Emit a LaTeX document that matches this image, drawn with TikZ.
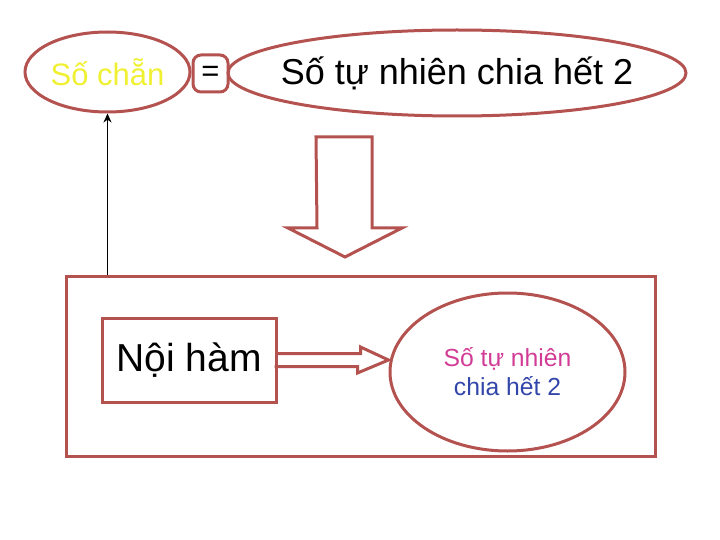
\documentclass[tikz,border=0pt]{standalone}
\usepackage{fontspec}
\setmainfont{Liberation Sans}
\usetikzlibrary{arrows,arrows.meta,shapes.geometric}
\definecolor{rim}{RGB}{180,82,80}
\definecolor{yel}{RGB}{240,240,50}
\definecolor{pink}{RGB}{210,60,150}
\definecolor{navy}{RGB}{50,70,170}
\tikzset{
  oval/.style={ellipse, draw=rim, line width=3pt, inner sep=0pt},
  box/.style={rectangle, draw=rim, line width=3pt, inner sep=0pt},
  fat/.style={draw=rim, line width=3pt, line join=miter}
}
\begin{document}
\begin{tikzpicture}[x=1pt,y=-1pt,>={Stealth[length=9pt,width=8pt]}]
        \useasboundingbox (0,0) rectangle (720,540);

        \node[oval, minimum width=165pt, minimum height=80pt,
          label={[text=yel, font=\fontsize{31}{36}\selectfont]center:Số chẵn}] (chan) at (107.5,72) {};
        \node[box, rounded corners=8pt, minimum width=35pt, minimum height=37pt] (eq) at (210.5,73.5)
          {\fontsize{31}{36}\selectfont =};
        \node[oval, minimum width=458pt, minimum height=86pt,
          label={[font=\fontsize{36}{40}\selectfont]center:Số tự nhiên chia hết 2}] (def) at (457,73) {};

        % khung duoi
        \node[box, minimum width=589pt, minimum height=180pt] (frame) at (360.5,366) {};
        \node[box, minimum width=174pt, minimum height=84pt] (noiham) at (189,360)
          {\fontsize{39}{44}\selectfont Nội hàm};
        \node[oval, minimum width=235pt, minimum height=158pt,
          label={[align=center, font=\fontsize{24.7}{29}\selectfont]center:{\color{pink}Số tự nhiên}\\{\color{navy}chia hết 2}}]
          (tap) at (507.5,372) {};

        % mui ten lon
        \coordinate (down) at (344,137);
        \draw[fat] (down) ++(-28,0) -- ++(56,0) -- ++(0,91) -- ++(30,0)
          -- ++(-57,29) -- ++(-57,-29) -- ++(29,0) -- cycle;

        \coordinate (tip) at (noiham.east -| tap.west);
        \draw[fat] (noiham.east) ++(0,-6.5) -- ++(83,0) -- ++(0,-6.5)
          -- (tip) -- ++(-31,13) -- ++(0,-6.5) -- ++(-83,0);

        \draw[->, line width=1.6pt] (frame.north -| chan.south) -- (chan.south);
      \end{tikzpicture}
\end{document}
